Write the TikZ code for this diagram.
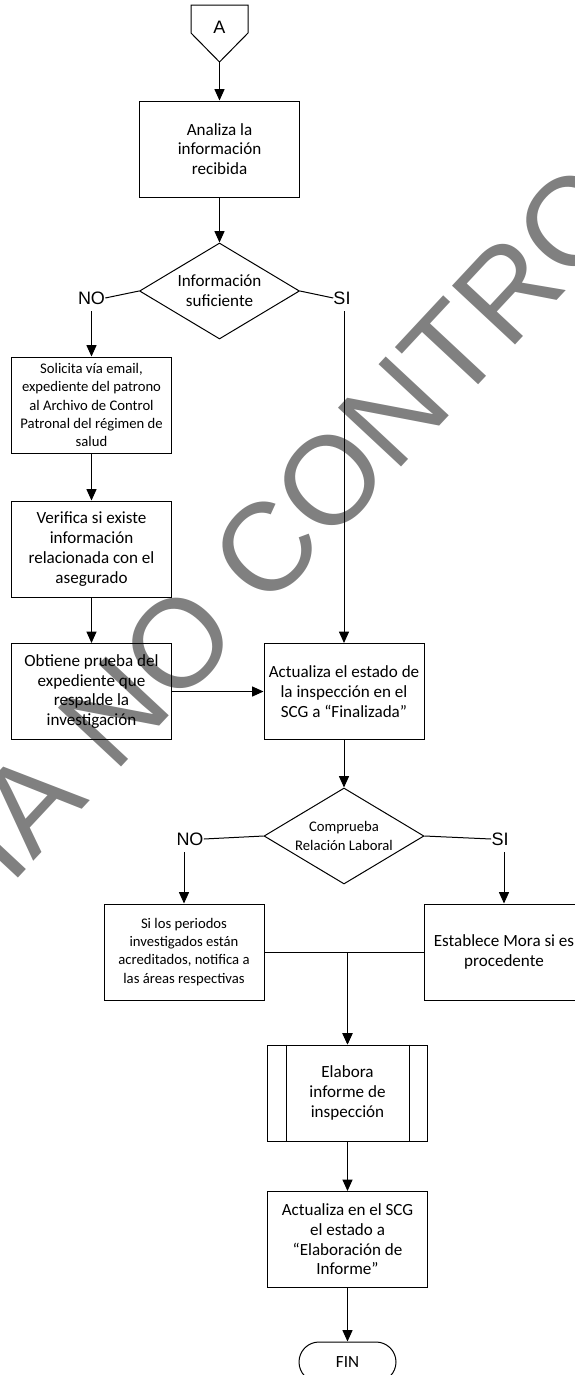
\documentclass[tikz,border=0pt]{standalone}
\usepackage{fontspec}
\setmainfont{Carlito}
\newfontfamily\arial{Liberation Sans}
\usepackage{tikz}
\usetikzlibrary{shapes.geometric, arrows.meta, calc}
\usepackage{xcolor}
\definecolor{marcagris}{RGB}{128,128,128}
\newcommand{\textogrande}{\fontsize{12.8}{14.8}\selectfont}
\newcommand{\textochico}{\fontsize{11}{13.6}\selectfont}
\tikzset{
    linea/.style={draw=black, line width=0.75pt},
    flecha/.style={linea, -{Triangle[width=7.5pt,length=8.5pt]}},
    proceso/.style={linea, minimum width=120pt, minimum height=72pt, inner sep=2pt, align=center, font=\textogrande},
    procesochico/.style={proceso, font=\textochico},
    decision/.style={linea, diamond, aspect=1.667, minimum width=120pt, minimum height=72pt, inner sep=0pt, align=center, font=\textogrande},
    terminal/.style={linea, rounded corners=15pt, minimum width=72.75pt, minimum height=30pt, font=\textogrande},
    etiqueta/.style={inner sep=0pt, font=\arial\fontsize{13.5}{14}\selectfont},
    marca/.style={inner sep=0pt, text=marcagris, font=\arial\fontsize{94}{94}\selectfont}
}

\begin{document}
\begin{tikzpicture}[x=0.75pt, y=-0.75pt]
    \useasboundingbox (0,0) rectangle (575,1375);
    \clip (0,0) rectangle (575,1375);
    \node[marca, rotate=47] (marca) at (311,501) {COPIA NO CONTROLADA};

    \draw[linea] (191,5) -- (248,5) -- (248,33) -- (219.5,62) -- (191,33) -- cycle;
    \node[etiqueta] (conA) at (219.5,27) {A};
    \coordinate (puntaA) at (219.5,62);

    \node[proceso] (analiza) at (219.5,149) {Analiza la\\información\\recibida};
    \node[decision] (info) at (219.5,291) {Información\\suficiente};
    \node[etiqueta] (no1) at (91.5,298) {NO};
    \node[etiqueta] (si1) at (342,298) {SI};
    \node[procesochico] (solicita) at (91.5,405) {Solicita vía email,\\expediente del patrono\\al Archivo de Control\\Patronal del régimen de\\salud};
    \node[proceso] (verifica) at (91.5,549) {Verifica si existe\\información\\relacionada con el\\asegurado};
    \node[proceso] (obtiene) at (91.5,691.5) {Obtiene prueba del\\expediente que\\respalde la\\investigación};
    \node[proceso] (finaliza) at (344,691.5) {Actualiza el estado de\\la inspección en el\\SCG a “Finalizada”};
    \node[decision, font=\textochico] (relacion) at (344,836) {Comprueba\\Relación Laboral};
    \node[etiqueta] (no2) at (190,839) {NO};
    \node[etiqueta] (si2) at (500,839) {SI};
    \node[procesochico] (periodos) at (184,952) {Si los periodos\\investigados están\\acreditados, notifica a\\las áreas respectivas};
    \node[proceso] (mora) at (504,952) {Establece Mora si es\\procedente};
    \node[proceso] (elabora) at (347.5,1093) {Elabora\\informe de\\inspección};
    \draw[linea] ($(elabora.north west)+(19,0)$) -- ($(elabora.south west)+(19,0)$);
    \draw[linea] ($(elabora.north east)+(-19,0)$) -- ($(elabora.south east)+(-19,0)$);
    \node[proceso] (informe) at (347.5,1239.5) {Actualiza en el SCG\\el estado a\\“Elaboración de\\Informe”};
    \node[terminal] (fin) at (347.5,1362) {FIN};

    \draw[flecha] (puntaA) -- (analiza);
    \draw[flecha] (analiza) -- (info);
    \draw[linea] (info.west) -- (no1.east);
    \draw[flecha, shorten <=5pt] (no1.south) -- (solicita.north);
    \draw[linea] (info.east) -- (si1.west);
    \draw[flecha, shorten <=5pt] (si1.south -| finaliza.north) -- (finaliza.north);
    \draw[flecha] (solicita) -- (verifica);
    \draw[flecha] (verifica) -- (obtiene);
    \draw[flecha] (obtiene) -- (finaliza);
    \draw[flecha] (finaliza) -- (relacion);
    \draw[linea] (relacion.west) -- (no2.east);
    \draw[flecha, shorten <=5pt] (no2.south -| periodos.north) -- (periodos.north);
    \draw[linea] (relacion.east) -- (si2.west);
    \draw[flecha, shorten <=5pt] (si2.south -| mora.north) -- (mora.north);
    \draw[flecha] (periodos.east) -| (elabora.north);
    \draw[flecha] (mora.west) -| (elabora.north);
    \draw[flecha] (elabora) -- (informe);
    \draw[flecha] (informe) -- (fin);
\end{tikzpicture}
\end{document}
